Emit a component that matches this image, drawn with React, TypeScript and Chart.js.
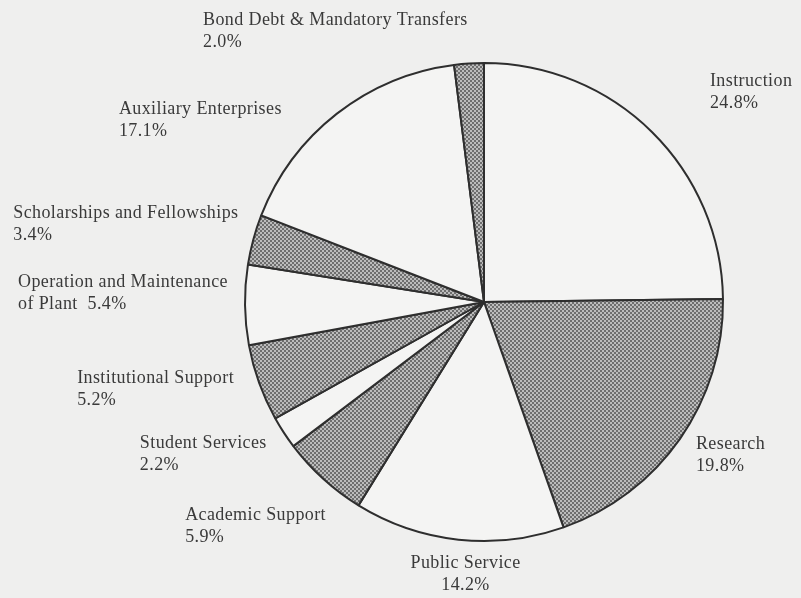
import React, { useEffect, useRef } from "react";
import { Chart, registerables } from "chart.js";

Chart.register(...registerables);

const categories = [
  "Instruction",
  "Research",
  "Public Service",
  "Academic Support",
  "Student Services",
  "Institutional Support",
  "Operation and Maintenance\nof Plant",
  "Scholarships and Fellowships",
  "Auxiliary Enterprises",
  "Bond Debt & Mandatory Transfers",
];
const values = [24.8, 19.8, 14.2, 5.9, 2.2, 5.2, 5.4, 3.4, 17.1, 2.0];
const hatched = [false, true, false, true, false, true, false, true, false, true];

// label layout (offsets from the slice's outer mid-point)
const labelLayout = [
  { dx: 58, dy: -51, align: "left", inline: false },
  { dx: 16, dy: 5, align: "left", inline: false },
  { dx: 7, dy: 24, align: "center", inline: false },
  { dx: -138, dy: 36, align: "left", inline: false },
  { dx: -144, dy: 11, align: "left", inline: false },
  { dx: -182, dy: -5, align: "left", inline: false },
  { dx: -227, dy: -23, align: "left", inline: true },
  { dx: -240, dy: -26, align: "left", inline: false },
  { dx: -218, dy: -4, align: "left", inline: false },
  { dx: -266, dy: -43, align: "left", inline: false },
];

function makePattern(): CanvasPattern | string {
  const c = document.createElement("canvas");
  c.width = 4;
  c.height = 4;
  const g = c.getContext("2d");
  if (!g) return "#888";
  g.fillStyle = "#6e6e6e";
  g.fillRect(0, 0, 4, 4);
  g.fillStyle = "#bcbcbc";
  g.fillRect(0, 0, 2, 2);
  g.fillRect(2, 2, 2, 2);
  const p = g.createPattern(c, "repeat");
  return p || "#888";
}

const labelPlugin = {
  id: "sliceLabels",
  afterDatasetsDraw(chart: any) {
    const ctx = chart.ctx as CanvasRenderingContext2D;
    const meta = chart.getDatasetMeta(0);
    ctx.save();
    ctx.font = '18px "Liberation Serif", "DejaVu Serif", serif';
    (ctx as any).letterSpacing = "0.4px";
    ctx.fillStyle = "#3a3a3a";
    ctx.textBaseline = "middle";
    meta.data.forEach((arc: any, i: number) => {
      const mid = (arc.startAngle + arc.endAngle) / 2;
      const ex = arc.x + Math.cos(mid) * arc.outerRadius;
      const ey = arc.y + Math.sin(mid) * arc.outerRadius;
      const lay = labelLayout[i];
      const pct = values[i].toFixed(1) + "%";
      const lines = categories[i].split("\n");
      if (lay.inline) lines[lines.length - 1] += "  " + pct;
      else lines.push(pct);
      ctx.textAlign = lay.align as CanvasTextAlign;
      lines.forEach((ln, k) => {
        ctx.fillText(ln, ex + lay.dx, ey + lay.dy + k * 22);
      });
    });
    ctx.restore();
  },
};

export default function App() {
  const ref = useRef<HTMLCanvasElement | null>(null);
  useEffect(() => {
    if (!ref.current) return;
    const pat = makePattern();
    const chart = new Chart(ref.current, {
      type: "pie",
      data: {
        labels: categories,
        datasets: [
          {
            data: values,
            backgroundColor: hatched.map((h) => (h ? pat : "#f4f4f3")),
            borderColor: "#2e2e2e",
            borderWidth: 2,
            hoverOffset: 0,
          },
        ],
      },
      options: {
        animation: false,
        responsive: true,
        maintainAspectRatio: false,
        layout: { padding: { left: 243, right: 76, top: 62, bottom: 56 } },
        plugins: {
          legend: { display: false },
          tooltip: { enabled: false },
        },
        events: [],
      },
      plugins: [labelPlugin],
    });
    return () => chart.destroy();
  }, []);
  return (
    <div
      style={{
        position: "absolute",
        left: 0,
        top: 0,
        width: 801,
        height: 598,
        background: "#efefee",
      }}
    >
      <canvas ref={ref} />
    </div>
  );
}
